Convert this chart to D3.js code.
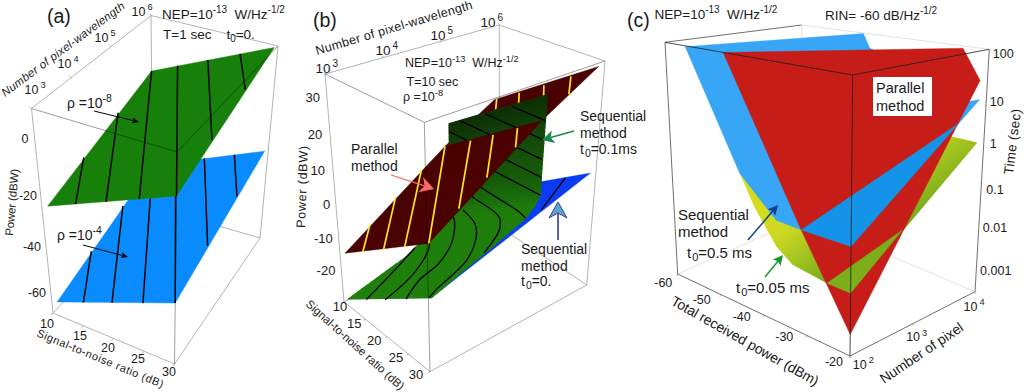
<!DOCTYPE html>
<html><head><meta charset="utf-8">
<script src="https://cdn.jsdelivr.net/npm/d3@7"></script>
<style>html,body{margin:0;padding:0;background:#fff}svg{display:block}</style>
</head><body>
<script>
// ---------- DATA: ticks ----------
const snrTicks=[10,15,20,25,30];
const pixelExpA=[3,4,5,6];
const powerTicksA=[0,-20,-40,-60];
const powerTicksB=[30,20,10,0,-10,-20];
const dbmTicks=[-60,-50,-40,-30,-20];
const pixelExpC=[2,3,4];
const timeExp=[2,1,0,-1,-2,-3];
const timeLabels=["100","10","1","0.1","0.01","0.001"];

// ---------- DATA: panel (a), corners [SNR dB, log10 N, dBW] ----------
const aGreen=[[10.9,3,-25.9],[30,3,-5.1],[29.6,5.97,11.1],[10,6,-11.7]];
const aBlue=[[10.9,3,-63.3],[30,3,-45.5],[30,5.87,-30.2],[10,6,-51]];
// iso-power lines as end points [SNR, log10 N]
const aGreenIso=[[[14.5,3],[10,4.07]],[[19.3,3],[10,5.06]],[[24.4,3],[10,6]],[[30,3],[14.4,6]],[[30,4.11],[19.4,6]],[[30,5.13],[24.6,6]]];
const aBlueIso=[[[14.6,3],[10,4.1]],[[19.5,3],[10,5.09]],[[24.7,3],[10,6]],[[30,3],[14.3,6]],[[30,4.11],[19.5,6]],[[30,5.09],[24.8,6]]];

// ---------- DATA: panel (b) ----------
const bParallel=[[11.2,3,-13.5],[30,3.03,5.1],[30,5.9,36.4],[10,5.91,13.5]];
const bParallelIso=[[[14.4,3],[10,3.52]],[[19.4,3],[10,4.05]],[[24.4,3],[10,4.57]],[[30,3],[10,5.04]],[[30,3.56],[10,5.6]],[[30,4.07],[10.5,6]],[[30,4.58],[15,6]],[[30,5.06],[19.8,6]],[[30,5.5],[24.9,6]]];
const bSplitLogN=5.04;
const bSeqZero=[[30,3.06,-9.5],[30,5.9,5.06],[12.4,5.9,-13.2],[11.2,3,-26.7]];
const bSeqZeroIso=[[30,5.04,0.6],[25,5.9,0]];
// t0=0.1ms surface edges: [log10 N, dBW] along SNR=11.2 and SNR=30
const bSeqEdge10=[[3,-26.7],[4.11,-22.5],[4.725,-17.4],[4.89,-15.1],[4.965,-12.8],[4.98,-7.5],[4.99,5.7],[4.995,12.5]];
const bSeqEdge30=[[3.06,-9.5],[4.14,-3.7],[4.755,0.26],[4.92,2.75],[5.01,5.06],[5.016,11.3],[5.04,25.3],[5.055,33.3]];
// upper iso-power levels on the wall (dBW)
const bSeqLevels=[5,10,15,20.5,26];
// lower iso-power lines, read as [surface row, fraction across SNR]
const bSeqLower=[
 [[0,.22],[.65,.095],[1.3,0]],
 [[0,.45],[.6,.385],[1.3,.17],[1.6,.05],[1.75,0]],
 [[0,.7],[.42,.57],[.8,.545],[1.45,.387],[2.6,.136],[3.2,.03]],
 [[0,.97],[.18,.936],[.78,.874],[1.55,.626],[2,.44],[3.4,.18]],
 [[.9,.99],[1.7,.83],[2.4,.67],[4.3,.277],[5,.1]],
 [[2,1],[2.6,.875],[4.7,.384],[5.4,.1]]
];

// ---------- DATA: panel (c), vertices [dBm, log10 N, log10 T] ----------
const cRed=[[-47.6,2,2.1],[-24,3.89,2.1],[-20,3.89,1.42],[-20,2,-3.06],[-31.2,2,-1.33]];
const cBlue=[[-55.7,2,2.08],[-46.4,3.97,2.1],[-45,3.97,1.74],[-20.8,3.82,0.955],[-20,3.9,0.98],[-20,2,-1.31],[-31.2,2,-1.33],[-36.8,2,-1.31],[-38,2,-1.2],[-44.8,2,-0.54]];
const cBlueFront=[[-31.2,2,-1.33],[-20,2,-1.31],[-20,3.6,0.56]];
const cGreen=[[-44.8,2,-0.54],[-41.6,2,-1.2],[-36.8,2,-1.88],[-33.2,2,-2.13],[-25.4,2,-2.23],[-20,2,-2.24],[-20,3.9,0],[-25.6,3.9,0]];
const cGreenFront=[[-25.4,2,-2.23],[-20,2,-2.24],[-20,2.8,-1.37]];

// ---------- LAYOUT ----------
const FONT='"Liberation Sans",Arial,sans-serif';
const NB='\u00a0';
const svg=d3.select('body').append('svg').attr('width',1024).attr('height',392).attr('font-family',FONT).attr('fill','#1a1a1a');
const defs=svg.append('defs');

function projector(T,B,xd,yd,zd){
  const su=d3.scaleLinear(xd,[0,1]),sv=d3.scaleLinear(yd,[0,1]),sh=d3.scaleLinear(zd,[0,1]);
  const bil=(c,u,v,i)=>c[0][i]*(1-u)*(1-v)+c[1][i]*u*(1-v)+c[2][i]*u*v+c[3][i]*(1-u)*v;
  const f=(x,y,z)=>{const u=su(x),v=sv(y),h=sh(z);
    return [0,1].map(i=>{const b=bil(B,u,v,i),t=bil(T,u,v,i);return b+(t-b)*h;});};
  f.T=T;f.B=B;f.su=su;f.sv=sv;return f;
}
const line=d3.line();
const smooth=d3.line().curve(d3.curveCatmullRom.alpha(.5));
const pathOf=(proj,pts)=>line(pts.map(p=>proj(p[0],p[1],p[2])))+'Z';
function backBox(g,p,col){
  const T=p.T,B=p.B;
  const segs=[[T[0],T[3]],[T[3],T[2]],[B[0],B[3]],[B[3],B[2]],[T[3],B[3]],[T[0],B[0]],[T[2],B[2]],[B[0],B[1]],[B[1],B[2]]];
  g.selectAll(null).data(segs).join('path').attr('d',d=>line(d)).attr('fill','none').attr('stroke',(d,i)=>Array.isArray(col)?col[i]:col).attr('stroke-width',1);
}
function frontBox(g,p,col,w){
  const T=p.T,B=p.B;
  g.selectAll(null).data([[T[0],T[1]],[T[1],T[2]],[T[1],B[1]]]).join('path').attr('d',d=>line(d)).attr('fill','none').attr('stroke',col).attr('stroke-width',w||1);
}
function patchPoint(c,snr,logN){
  const s=(snr-10)/20,t=(logN-3)/3;
  return [0,1,2].map(i=>c[0][i]*(1-s)*(1-t)+c[1][i]*s*(1-t)+c[2][i]*s*t+c[3][i]*(1-s)*t);
}
function fill(g,proj,pts,col,sw){g.append('path').attr('d',pathOf(proj,pts)).attr('fill',col).attr('stroke',col).attr('stroke-width',sw||.4);}
function isoLines(g,proj,corners,lines,col,w){
  g.selectAll(null).data(lines).join('path')
   .attr('d',d=>line(d.map(e=>{const q=patchPoint(corners,e[0],e[1]);return proj(q[0],q[1],q[2]);})))
   .attr('fill','none').attr('stroke',col).attr('stroke-width',w);
}
function rich(g,x,y,parts,o={}){
  const t=g.append('text').attr('x',x).attr('y',y).attr('font-size',o.size||13).attr('text-anchor',o.anchor||'start');
  if(o.rot!==undefined)t.attr('transform',`rotate(${o.rot} ${x} ${y})`);
  if(o.italic)t.attr('font-style','italic');
  if(o.fill)t.attr('fill',o.fill);
  const s=o.size||13;let cur=0;
  parts.forEach(p=>{
    const str=typeof p==='string'?p:p[0],k=typeof p==='string'?null:p[1];
    const target=k==='sup'?-s*.42:k==='sub'?s*.22:0;
    const ts=t.append('tspan').text(str).attr('dy',target-cur);
    if(k){ts.attr('font-size',s*.74);ts.attr('dx',o.gap||0);}
    cur=target;
  });
  return t;
}
function arrow(g,x1,y1,x2,y2,o){
  const a=Math.atan2(y2-y1,x2-x1),L=o.len||8,W=o.wid||3.5,N=o.notch||L*.8;
  const c=Math.cos(a),s=Math.sin(a);
  g.append('line').attr('x1',x1).attr('y1',y1).attr('x2',x2-c*N).attr('y2',y2-s*N).attr('stroke',o.color).attr('stroke-width',o.w||1.2);
  const P=[[x2,y2],[x2-c*L-s*W,y2-s*L+c*W],[x2-c*N,y2-s*N],[x2-c*L+s*W,y2-s*L-c*W]];
  g.append('path').attr('d',line(P)+'Z').attr('fill',o.head||o.color).attr('stroke',o.edge||'none').attr('stroke-width',o.edge?1:0);
}
function tickLabels(g,values,xs,ys,txt,o={}){
  const sx=d3.scaleLinear(values,xs),sy=d3.scaleLinear(values,ys);
  values.forEach((v,i)=>{rich(g,sx(v),sy(v)+(o.size||12)*.36,txt(v,i),{size:o.size||12,anchor:'middle',gap:o.gap});});
}
function edgeTicks(g,a,b,scale,values,dx,dy){
  values.forEach(v=>{const t=scale(v),x=a[0]+(b[0]-a[0])*t,y=a[1]+(b[1]-a[1])*t;
    g.append('line').attr('x1',x).attr('y1',y).attr('x2',x+dx).attr('y2',y+dy).attr('stroke','#999').attr('stroke-width',.8);});
}
const tenTo=v=>['10',[String(v),'sup']];

// ================= PANEL A =================
(function(){
  const g=svg.append('g');
  const p=projector([[31.5,108.5],[177,152],[278,46],[151,15.5]],[[53,313],[174.5,364],[260,238],[153,207]],[10,30],[3,6],[-68.5,11.5]);
  backBox(g,p,'#b4b4b4');
  edgeTicks(g,p.B[0],p.B[1],p.su,snrTicks,-2,2);
  edgeTicks(g,p.T[0],p.T[3],p.sv,pixelExpA,-2,-2);
  fill(g,p,aBlue,'#0a8cff');isoLines(g,p,aBlue,aBlueIso,'#000',1.5);
  fill(g,p,aGreen,'#17800a');isoLines(g,p,aGreen,aGreenIso,'#000',1.5);
  frontBox(g,p,'rgba(0,0,0,.38)');
  tickLabels(g,snrTicks,[47,80,108,138,169],[323,335,347,358,371],v=>[String(v)],{size:12.5});
  tickLabels(g,pixelExpA,[35,68,105,142],[89,63,37,11],tenTo,{size:12.5,gap:2});
  tickLabels(g,powerTicksA,[25,28,32,37],[138,195,246,292],v=>[String(v)],{size:12.5});
  rich(g,47,23,['(a)'],{size:19.5});
  rich(g,162,19,['NEP=10',['-13','sup'],NB+NB+'W/Hz',['-1/2','sup']],{size:13.5});
  rich(g,163,39,['T=1 sec'+NB+NB+NB+NB+'t',['0','sub'],'=0.'],{size:13.5});
  rich(g,67,108,['ρ =10',['-8','sup']],{size:14});
  rich(g,57,240,['ρ =10',['-4','sup']],{size:14});
  rich(g,5,97,['Number of pixel-wavelength'],{size:11.5,rot:-36.5,italic:true}).attr('textLength',150);
  rich(g,13,236,['Power (dBW)'],{size:11.5,rot:-85}).attr('textLength',67);
  rich(g,36,336,['Signal-to-noise ratio (dB)'],{size:11,rot:22.5}).attr('textLength',136);
  arrow(g,94,111,139,122,{color:'#000',w:1,len:7,wid:3});
  arrow(g,83,245,128,257,{color:'#000',w:1,len:7,wid:3});
})();

// ================= PANEL B =================
(function(){
  const g=svg.append('g');
  const p=projector([[325,74],[424.3,122.3],[605,61],[499.3,25]],[[344,301.7],[430,371.7],[586.7,285],[499.3,226.7]],[10,30],[3,6],[-28.7,37.4]);
  backBox(g,p,'#b4b4b4');
  edgeTicks(g,p.B[0],p.B[1],p.su,snrTicks,-2,1);
  edgeTicks(g,p.T[0],p.T[3],p.sv,pixelExpA,-1,-2);
  fill(g,p,bSeqZero,'#0a3cf5');
  g.append('path').attr('d',line(bSeqZeroIso.map(e=>p(e[0],e[1],e[2])))).attr('fill','none').attr('stroke','#000').attr('stroke-width',1.3);

  // split parallel plane at the wall of the sequential surface
  const tSplit=bSplitLogN;
  const mid0=patchPoint(bParallel,10,tSplit),mid1=patchPoint(bParallel,30,tSplit);
  const pieceLines=(keepFront)=>bParallelIso.map(l=>{
    const [a,b]=l;
    const low=a[1]<=b[1]?a:b,high=a[1]<=b[1]?b:a;
    if(high[1]<=tSplit) return keepFront?[low,high]:null;
    if(low[1]>=tSplit) return keepFront?null:[low,high];
    const f=(tSplit-low[1])/(high[1]-low[1]),m=[low[0]+(high[0]-low[0])*f,tSplit];
    return keepFront?[low,m]:[m,high];
  }).filter(Boolean);
  const MAROON='#4a0200',YEL='#ffe61e';
  fill(g,p,[mid0,mid1,bParallel[2],bParallel[3]],MAROON);
  isoLines(g,p,bParallel,pieceLines(false),YEL,1.7);

  // t0=0.1ms surface, ruled between its two edges
  const colorAt=d3.scaleLinear([0,3,4,5,6,7],['#1f800c','#1f7c0c','#1b6e0c','#165a0a','#12420a','#0f2e06']).interpolate(d3.interpolateRgb);
  const rowPt=(r,s)=>{
    const i=Math.min(Math.floor(r),bSeqEdge10.length-2),f=r-i;
    const a=[0,1].map(k=>bSeqEdge10[i][k]+(bSeqEdge10[i+1][k]-bSeqEdge10[i][k])*f);
    const b=[0,1].map(k=>bSeqEdge30[i][k]+(bSeqEdge30[i+1][k]-bSeqEdge30[i][k])*f);
    return [11.2+18.8*s,a[0]+(b[0]-a[0])*s,a[1]+(b[1]-a[1])*s];
  };
  const steps=d3.range(0,bSeqEdge10.length-1+1e-9,1/12);
  d3.pairs(steps).forEach(([r0,r1])=>{
    fill(g,p,[rowPt(r0,0),rowPt(r0,1),rowPt(r1,1),rowPt(r1,0)],colorAt(r0),1.2);
  });
  bSeqLower.forEach(l=>{
    g.append('path').attr('d',smooth(l.map(e=>{const q=rowPt(e[0],e[1]);return p(q[0],q[1],q[2]);}))).attr('fill','none').attr('stroke','#000').attr('stroke-width',1.3);
  });
  const fine=d3.range(0,bSeqEdge10.length-1+1e-9,1/80);
  bSeqLevels.forEach(L=>{
    const pts=[];
    fine.forEach(r=>{
      const A=rowPt(r,0)[2],B=rowPt(r,1)[2],s=(L-A)/(B-A);
      if(s>=0&&s<=1){const q=rowPt(r,s);pts.push(p(q[0],q[1],q[2]));}
    });
    if(pts.length>1)g.append('path').attr('d',line(pts)).attr('fill','none').attr('stroke','#000').attr('stroke-width',1.3);
  });

  fill(g,p,[bParallel[0],bParallel[1],mid1,mid0],MAROON);
  isoLines(g,p,bParallel,pieceLines(true),YEL,1.7);
  frontBox(g,p,'rgba(0,0,0,.38)');

  tickLabels(g,snrTicks,[340,354.3,374.3,396,416],[306,323.3,340,357.3,374],v=>[String(v)],{size:13});
  tickLabels(g,pixelExpA,[326.7,386.7,441.7,491.7],[68,50,35,21.7],tenTo,{size:13.5,gap:2});
  tickLabels(g,powerTicksB,[312.7,315,317.7,326.7,323.3,326],[97.7,134.3,170,204,238.3,270],v=>[String(v)],{size:13});
  rich(g,313,27,['(b)'],{size:19.5});
  rich(g,317,55,['Number of pixel-wavelength'],{size:12.5,rot:-16.6}).attr('textLength',163);
  rich(g,405,67,['NEP=10',['-13','sup'],NB+NB+'W/Hz',['-1/2','sup']],{size:12.5});
  rich(g,406.5,86,['T=10 sec'],{size:12.5});
  rich(g,403,101,['ρ =10',['-8','sup']],{size:12.5});
  rich(g,305,228,['Power (dBW)'],{size:12.5,rot:-88}).attr('textLength',82);
  rich(g,305,305,['Signal-to-noise ratio (dB)'],{size:11.5,rot:42}).attr('textLength',128);
  rich(g,351,154,['Parallel'],{size:14});rich(g,351,171,['method'],{size:14});
  rich(g,580,121,['Sequential'],{size:14});rich(g,580,138,['method'],{size:14});
  rich(g,580,154,['t',['0','sub'],'=0.1ms'],{size:14,gap:1});
  rich(g,521,254,['Sequential'],{size:14});rich(g,521,271,['method'],{size:14});
  rich(g,521,286,['t',['0','sub'],'=0.'],{size:14,gap:1});
  arrow(g,391,175,434,189,{color:'#f86a6a',w:1.2,len:14,wid:8,notch:10});
  arrow(g,574,131,542,140,{color:'#16884a',w:1.5,len:12,wid:6.5,notch:9});
  arrow(g,558,240,558,202,{color:'#1a1a8c',w:1.4,head:'#58a6cc',edge:'#3a3a9a',len:16,wid:9,notch:11});
})();

// ================= PANEL C =================
(function(){
  const g=svg.append('g');
  const p=projector([[665,42.3],[852.7,75],[989.3,49.3],[801.7,25]],[[677.7,274],[850,356],[975,291.7],[802.7,218.3]],[-60,-20],[2,4],[-3.486,2.1]);
  const D='#707070',L='#e2e2e2';
  backBox(g,p,[D,L,L,L,L,D,D,D,D]);
  edgeTicks(g,p.B[0],p.B[1],p.su,dbmTicks,-1,2);
  edgeTicks(g,p.B[1],p.B[2],p.sv,pixelExpC,1,2);
  const grad=defs.append('linearGradient').attr('id','seqGrad').attr('gradientUnits','userSpaceOnUse')
    .attr('x1',763).attr('y1',207).attr('x2',817).attr('y2',283);
  grad.append('stop').attr('offset',0).attr('stop-color','#d4dc1e');
  grad.append('stop').attr('offset',.35).attr('stop-color','#ccd822');
  grad.append('stop').attr('offset',1).attr('stop-color','#7cae1c');
  fill(g,p,cGreen,'url(#seqGrad)',.01);
  fill(g,p,cBlue,'#38a6f6');
  fill(g,p,cRed,'#c71d18');
  fill(g,p,cBlueFront,'#1494e8');
  fill(g,p,cGreenFront,'#7cae1c');
  frontBox(g,p,'rgba(30,30,30,.8)');

  tickLabels(g,dbmTicks,[663.3,701.7,741.7,784.3,834],[282.7,299.3,316,336.7,361.7],v=>[String(v)],{size:12.5});
  tickLabels(g,pixelExpC,[863.3,916.7,974],[364,336.7,306],tenTo,{size:12.5,gap:2});
  tickLabels(g,timeExp,[1003.3,996.7,993.3,995,995,995.7],[53.3,101.7,143.3,189.3,227.7,270.7],(v,i)=>[timeLabels[i]],{size:12.5});
  rich(g,627,27,['(c)'],{size:19.5});
  rich(g,654.5,19,['NEP=10',['-13','sup'],NB+NB+'W/Hz',['-1/2','sup']],{size:13.5});
  rich(g,825,20,['RIN= -60 dB/Hz',['-1/2','sup']],{size:13.5});
  g.append('rect').attr('x',873).attr('y',77).attr('width',59).attr('height',39).attr('fill','#fff');
  rich(g,876,93,['Parallel'],{size:14.5});rich(g,876,111,['method'],{size:14.5});
  rich(g,678,220,['Sequential'],{size:15});rich(g,678,237,['method'],{size:15});
  rich(g,687,258,['t',['0','sub'],'=0.5 ms'],{size:15,gap:1});
  rich(g,736,293,['t',['0','sub'],'=0.05 ms'],{size:15,gap:1});
  rich(g,670,304,['Total received power (dBm)'],{size:14,rot:29.5}).attr('textLength',167);
  rich(g,884,384,['Number of pixel'],{size:14,rot:-34}).attr('textLength',97);
  rich(g,1013,175,['Time (sec)'],{size:13.5,rot:-83}).attr('textLength',66);
  arrow(g,748,240,778,205,{color:'#12408c',w:1.5,len:10,wid:5,notch:8});
  arrow(g,765,277,783,255,{color:'#159a2a',w:1.5,len:10,wid:5,notch:8});
})();
</script>
</body></html>
